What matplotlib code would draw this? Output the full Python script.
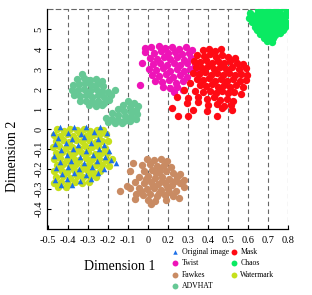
import matplotlib
matplotlib.use("Agg")
import matplotlib.pyplot as plt
import numpy as np

plt.rcParams['font.family'] = ['Liberation Serif', 'DejaVu Serif']

# Axis positions (linear) and their printed labels (as in the source figure)
x_tick_pos = [-5, -4, -3, -2, -1, 0, 1, 2, 3, 4, 5, 6, 7]
x_tick_labels = ['-0.5', '-0.4', '-0.3', '-0.2', '-0.1', '0', '0.2', '0.3', '0.4', '0.5', '0.6', '0.7', '0.8']
y_tick_pos = [-4, -3, -2, -1, 0, 1, 2, 3, 4, 5]
y_tick_labels = ['-0.4', '-0.3', '-0.2', '-0.1', '0', '1', '2', '3', '4', '5']

# Series points (in axis position units)
original = [
    (-4.4, 0.1), (-3.7, 0.12), (-3.1, 0.08), (-2.4, 0.1),
    (-4.75, -0.2), (-4.0, -0.18), (-3.35, -0.24), (-2.7, -0.17), (-2.05, -0.22),
    (-4.5, -0.45), (-3.8, -0.5), (-3.2, -0.42), (-2.5, -0.48),
    (-4.65, -0.75), (-4.1, -0.7), (-3.5, -0.8), (-2.85, -0.72), (-2.2, -0.78),
    (-4.35, -1.05), (-3.75, -1.0), (-3.1, -1.1), (-2.45, -1.02), (-1.95, -1.08),
    (-4.7, -1.35), (-4.05, -1.3), (-3.4, -1.4), (-2.75, -1.32), (-2.15, -1.38),
    (-4.4, -1.65), (-3.85, -1.6), (-3.2, -1.7), (-2.55, -1.62), (-1.85, -1.55), (-1.6, -1.72),
    (-4.6, -1.95), (-4.0, -1.9), (-3.45, -2.0), (-2.8, -1.92), (-2.2, -1.98),
    (-4.3, -2.25), (-3.7, -2.2), (-3.1, -2.3), (-2.5, -2.22),
    (-4.65, -2.55), (-4.05, -2.5), (-3.4, -2.6), (-2.85, -2.52),
    (-4.35, -2.8), (-3.8, -2.78),
]
twist = [
    (0.15, 4.1), (0.55, 4.15), (0.85, 4.05), (1.2, 4.12), (1.55, 4.0), (1.9, 4.1), (2.2, 3.95),
    (-0.15, 3.85), (0.3, 3.8), (0.65, 3.88), (1.0, 3.78), (1.35, 3.85), (1.7, 3.75), (2.05, 3.8),
    (0.1, 3.55), (0.45, 3.5), (0.8, 3.6), (1.1, 3.48), (1.45, 3.58), (1.8, 3.45), (2.15, 3.55),
    (-0.3, 3.3), (0.25, 3.25), (0.6, 3.32), (0.95, 3.2), (1.3, 3.3), (1.6, 3.18), (1.95, 3.28), (2.35, 3.2),
    (0.05, 3.0), (0.4, 2.95), (0.75, 3.05), (1.1, 2.92), (1.45, 3.0), (1.8, 2.9), (2.1, 2.98), (2.45, 2.9),
    (0.2, 2.7), (0.55, 2.65), (0.9, 2.75), (1.25, 2.62), (1.6, 2.7), (1.95, 2.6),
    (0.35, 2.4), (0.7, 2.35), (1.05, 2.45), (1.4, 2.32), (1.75, 2.4),
    (0.75, 2.1), (1.1, 2.05), (1.45, 2.12), (1.75, 1.95), (1.3, 1.85),
    (-0.4, 2.2), (-0.15, 4.05),
]
fawkes = [
    (-0.05, -1.5), (0.3, -1.55), (0.65, -1.5), (0.95, -1.6),
    (-0.3, -1.8), (0.1, -1.75), (0.45, -1.85), (0.8, -1.78), (1.15, -1.9),
    (-0.2, -2.1), (0.2, -2.05), (0.55, -2.15), (0.9, -2.08), (1.25, -2.2), (1.6, -2.25),
    (-0.45, -2.4), (0.0, -2.35), (0.35, -2.45), (0.7, -2.38), (1.05, -2.5), (1.45, -2.42), (1.8, -2.55),
    (-0.65, -2.65), (-0.2, -2.7), (0.15, -2.65), (0.5, -2.75), (0.85, -2.68), (1.2, -2.8), (1.6, -2.72), (1.8, -2.9),
    (-0.9, -2.95), (-0.45, -2.95), (-0.05, -3.0), (0.3, -2.95), (0.65, -3.05), (1.0, -2.98), (1.4, -3.1),
    (-0.6, -3.25), (-0.25, -3.3), (0.1, -3.25), (0.45, -3.35), (0.85, -3.3), (1.25, -3.35), (1.55, -3.45),
    (-0.65, -3.5), (0.0, -3.55), (0.35, -3.6), (0.9, -3.55), (0.15, -3.75),
    (-0.75, -1.7), (-0.9, -2.1), (-1.4, -3.1), (-1.05, -2.85),
    (0.4, -2.2), (0.7, -2.6), (0.25, -2.85), (0.95, -2.85), (0.55, -3.2), (1.05, -3.15),
    (-0.1, -2.5), (0.6, -1.95), (1.35, -2.6), (-0.35, -3.1),
]
advhat = [
    (-3.3, 2.75), (-3.55, 2.5), (-3.2, 2.55), (-2.9, 2.45), (-2.6, 2.5), (-2.3, 2.4),
    (-3.75, 2.2), (-3.45, 2.25), (-3.15, 2.3), (-2.85, 2.2), (-2.55, 2.25), (-2.25, 2.15),
    (-3.8, 1.95), (-3.5, 1.95), (-3.2, 2.0), (-2.9, 1.92), (-2.6, 1.98), (-2.3, 1.9), (-2.0, 1.85),
    (-3.7, 1.7), (-3.4, 1.65), (-3.1, 1.72), (-2.8, 1.62), (-2.5, 1.7), (-2.2, 1.6), (-1.85, 1.7), (-1.65, 1.95),
    (-3.4, 1.4), (-3.1, 1.42), (-2.8, 1.35), (-2.5, 1.4), (-2.2, 1.3), (-1.95, 1.45),
    (-2.95, 1.18), (-2.6, 1.15), (-2.3, 1.2),
    (-1.0, 1.4), (-0.7, 1.3), (-0.5, 1.15), (-1.25, 1.2), (-0.9, 1.1), (-0.6, 0.95),
    (-1.5, 1.0), (-1.2, 0.92), (-0.85, 0.85), (-0.55, 0.75),
    (-1.8, 0.8), (-1.5, 0.72), (-1.15, 0.65), (-0.85, 0.6), (-0.6, 0.5),
    (-2.1, 0.55), (-1.8, 0.5), (-1.5, 0.45), (-1.2, 0.4), (-0.9, 0.38),
    (-2.0, 0.35), (-1.65, 0.3), (-1.3, 0.32), (-1.05, 0.45),
]
mask = [
    (2.75, 3.95), (3.05, 4.0), (3.35, 3.9), (3.65, 3.98),
    (2.45, 3.7), (2.8, 3.65), (3.1, 3.75), (3.4, 3.62), (3.7, 3.72), (4.0, 3.6), (4.35, 3.55),
    (2.3, 3.4), (2.6, 3.35), (2.9, 3.45), (3.2, 3.32), (3.5, 3.42), (3.8, 3.3), (4.1, 3.38), (4.45, 3.3), (4.75, 3.25),
    (2.4, 3.1), (2.7, 3.05), (3.0, 3.15), (3.3, 3.02), (3.6, 3.12), (3.9, 3.0), (4.2, 3.08), (4.55, 3.0), (4.9, 3.05),
    (2.25, 2.8), (2.55, 2.75), (2.85, 2.85), (3.15, 2.72), (3.45, 2.82), (3.75, 2.7), (4.05, 2.78), (4.35, 2.68), (4.65, 2.75), (4.95, 2.7),
    (2.45, 2.5), (2.75, 2.45), (3.05, 2.55), (3.35, 2.42), (3.65, 2.52), (3.95, 2.4), (4.25, 2.48), (4.6, 2.4), (4.9, 2.45),
    (2.1, 2.3), (2.6, 2.2), (2.9, 2.15), (3.2, 2.25), (3.5, 2.12), (3.8, 2.22), (4.1, 2.1), (4.4, 2.18), (4.75, 2.1),
    (1.8, 1.95), (2.35, 1.9), (2.75, 1.85), (3.1, 1.92), (3.4, 1.8), (3.7, 1.88), (4.0, 1.78), (4.3, 1.85), (4.65, 1.75),
    (1.45, 1.6), (2.0, 1.55), (2.5, 1.6), (2.95, 1.5), (3.3, 1.58), (3.6, 1.45), (3.95, 1.52), (4.25, 1.4),
    (1.95, 1.3), (2.5, 1.35), (3.0, 1.2), (3.45, 1.25), (3.8, 1.15), (4.15, 1.2),
    (1.2, 1.05), (2.25, 0.95), (2.95, 0.9), (3.7, 1.05), (4.2, 0.95),
    (1.5, 0.65), (2.0, 0.65), (3.45, 0.65),
]
chaos = [
    (5.48, 5.97), (5.72, 5.92), (6.02, 5.98), (6.27, 5.93), (6.55, 5.96), (6.88, 5.99),
    (5.12, 5.78), (5.38, 5.72), (5.63, 5.8), (5.88, 5.74), (6.13, 5.79), (6.36, 5.71), (6.62, 5.77), (6.9, 5.8),
    (5.06, 5.55), (5.31, 5.6), (5.55, 5.52), (5.81, 5.58), (6.07, 5.5), (6.33, 5.57), (6.58, 5.53), (6.83, 5.6),
    (5.22, 5.36), (5.47, 5.31), (5.7, 5.39), (5.96, 5.33), (6.21, 5.38), (6.44, 5.3), (6.71, 5.36), (6.93, 5.28),
    (5.33, 5.12), (5.57, 5.18), (5.82, 5.1), (6.06, 5.16), (6.31, 5.11), (6.56, 5.17), (6.84, 5.12),
    (5.46, 4.93), (5.71, 4.98), (5.97, 4.9), (6.22, 4.96), (6.47, 4.92), (6.77, 4.97),
    (5.62, 4.74), (5.86, 4.7), (6.11, 4.77), (6.36, 4.72), (6.62, 4.78),
    (5.78, 4.55), (6.02, 4.5), (6.27, 4.57), (5.93, 4.38), (6.18, 4.36),
]
watermark = [
    (-4.55, -0.02), (-4.2, -0.08), (-3.9, 0.0), (-3.55, -0.06), (-3.2, -0.01), (-2.9, -0.09), (-2.55, -0.03), (-2.25, -0.07),
    (-4.7, -0.3), (-4.4, -0.36), (-4.05, -0.27), (-3.75, -0.33), (-3.4, -0.25), (-3.1, -0.35), (-2.75, -0.28), (-2.45, -0.32), (-2.1, -0.26),
    (-4.6, -0.6), (-4.25, -0.55), (-3.95, -0.64), (-3.6, -0.57), (-3.3, -0.62), (-2.95, -0.54), (-2.6, -0.63), (-2.3, -0.58), (-2.0, -0.61),
    (-4.75, -0.9), (-4.45, -0.86), (-4.1, -0.94), (-3.8, -0.88), (-3.45, -0.95), (-3.15, -0.85), (-2.8, -0.92), (-2.5, -0.87), (-2.15, -0.93),
    (-4.6, -1.2), (-4.3, -1.16), (-3.95, -1.24), (-3.65, -1.17), (-3.3, -1.22), (-3.0, -1.14), (-2.65, -1.23), (-2.35, -1.18), (-2.05, -1.21),
    (-4.7, -1.5), (-4.4, -1.45), (-4.05, -1.54), (-3.75, -1.47), (-3.45, -1.53), (-3.1, -1.46), (-2.8, -1.52), (-2.45, -1.48), (-2.1, -1.55), (-1.8, -1.5),
    (-4.55, -1.8), (-4.25, -1.76), (-3.9, -1.84), (-3.6, -1.77), (-3.25, -1.83), (-2.95, -1.75), (-2.6, -1.82), (-2.3, -1.78), (-1.95, -1.85),
    (-4.7, -2.1), (-4.35, -2.05), (-4.05, -2.14), (-3.7, -2.07), (-3.4, -2.12), (-3.05, -2.04), (-2.75, -2.13), (-2.4, -2.08),
    (-4.6, -2.4), (-4.25, -2.36), (-3.9, -2.44), (-3.55, -2.37), (-3.25, -2.42), (-2.9, -2.35), (-2.6, -2.41),
    (-4.7, -2.7), (-4.35, -2.66), (-4.0, -2.74), (-3.65, -2.67), (-3.3, -2.72), (-2.95, -2.65),
    (-4.5, -2.9), (-4.1, -2.88),
]

series = [
    ('Original image', original, '#1c6fe8', '^'),
    ('Twist', twist, '#ee14b8', 'o'),
    ('Fawkes', fawkes, '#c98b63', 'o'),
    ('ADVHAT', advhat, '#66c895', 'o'),
    ('Mask', mask, '#ff0a14', 'o'),
    ('Chaos', chaos, '#0aea62', 'o'),
    ('Watermark', watermark, '#c6e01c', 'o'),
]

fig = plt.figure(figsize=(3.12, 2.95), dpi=100)
ax = fig.add_axes([47.5 / 312, 1 - 229 / 295, (288 - 47.5) / 312, 220 / 295])

handles = []
for name, pts, col, mk in series:
    arr = np.array(pts)
    z = 4 if mk == '^' else 3
    h = ax.scatter(arr[:, 0], arr[:, 1], s=28 if mk == 'o' else 16, c=col, marker=mk,
                   linewidths=0, label=name, zorder=z)
    handles.append(h)

ax.set_xlim(-5, 7)
ax.set_ylim(-5, 6)
ax.set_xticks(x_tick_pos)
ax.set_xticklabels(x_tick_labels)
ax.set_yticks(y_tick_pos)
ax.set_yticklabels(y_tick_labels, rotation=90, va='center')
ax.tick_params(direction='in', length=3, width=0.8, labelsize=7.5, pad=5)
ax.tick_params(axis='y', pad=3)

for xp in x_tick_pos[1:]:
    ax.axvline(xp, color='#666666', lw=0.8, ls=(0, (4, 3)), zorder=1)
ax.spines['top'].set_linestyle((0, (4, 3)))
ax.spines['top'].set_color('#666666')
ax.spines['top'].set_linewidth(0.8)
ax.spines['right'].set_visible(False)
ax.spines['left'].set_linewidth(0.9)
ax.spines['bottom'].set_linewidth(0.9)

fig.text(120 / 312, 1 - 266 / 295, 'Dimension 1', ha='center', va='center', fontsize=10)
fig.text(12.5 / 312, 1 - 156 / 295, 'Dimension 2', ha='center', va='center', fontsize=10, rotation=90)

fig.legend(handles=handles, loc='upper left', bbox_to_anchor=(166 / 312, 1 - 244 / 295),
           ncol=2, frameon=False, fontsize=5.6, markerscale=0.8, handletextpad=0.2,
           columnspacing=0.0, labelspacing=0.45, borderpad=0.0, handlelength=1.3,
           scatterpoints=1)

fig.savefig('out.png', dpi=100)
